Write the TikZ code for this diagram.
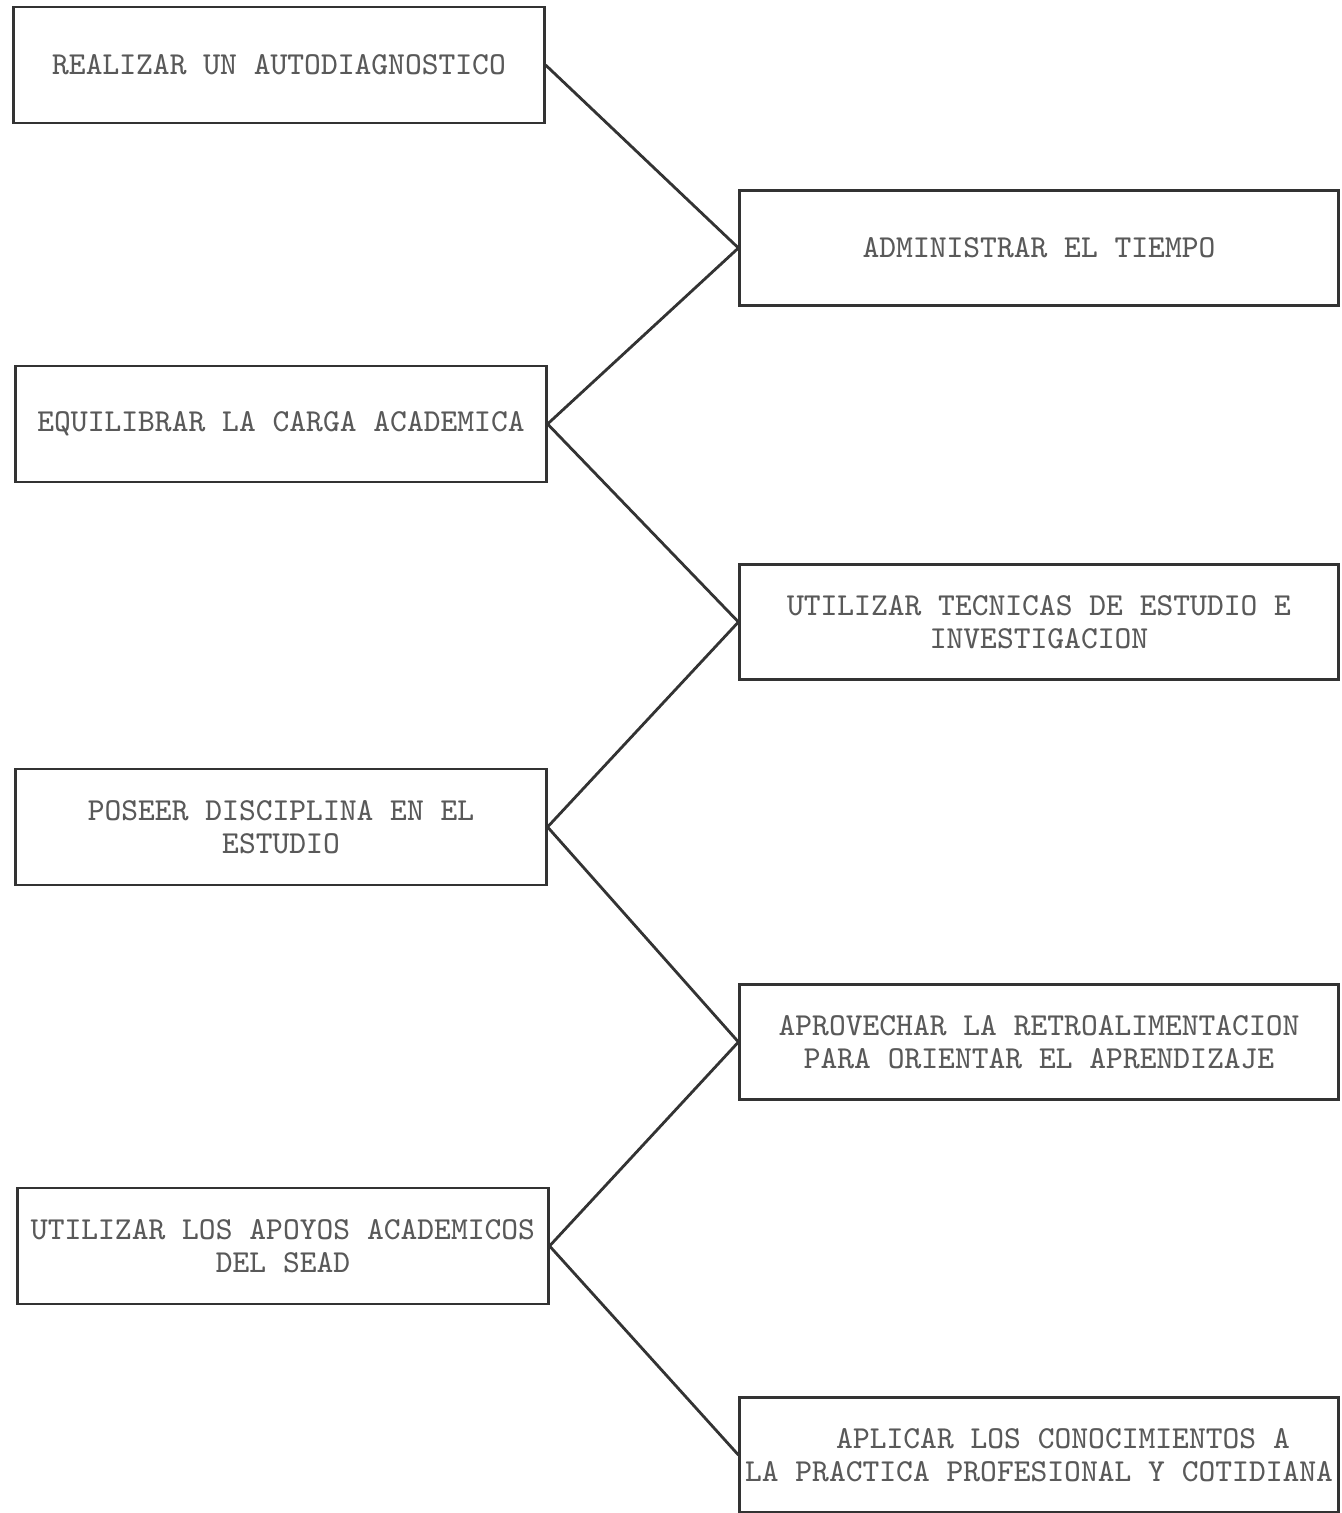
\documentclass[tikz,border=0pt]{standalone}
\tikzset{
  paso/.style={draw=black!80, line width=0.8pt, rectangle, inner sep=1pt,
    align=center, font=\ttfamily\fontsize{9.1pt}{9.4pt}\selectfont, text=black!65},
  izq/.style={paso, minimum width=5.3cm, minimum height=1.16cm},
  der/.style={paso, minimum width=5.98cm, minimum height=1.15cm}
}
\begin{document}
\begin{tikzpicture}[x=0.01cm,y=-0.01cm]
      \useasboundingbox (0,0) rectangle (1341,1513);
      \node[izq] (l1) at (279,65) {REALIZAR UN AUTODIAGNOSTICO};
      \node[izq] (l2) at (281,424) {EQUILIBRAR LA CARGA ACADEMICA};
      \node[izq] (l3) at (281,827) {POSEER DISCIPLINA EN EL\\ESTUDIO};
      \node[izq] (l4) at (283,1246) {UTILIZAR LOS APOYOS ACADEMICOS\\DEL SEAD};
      \node[der] (r1) at (1039,248) {ADMINISTRAR EL TIEMPO};
      \node[der] (r2) at (1039,622) {UTILIZAR TECNICAS DE ESTUDIO E\\INVESTIGACION};
      \node[der] (r3) at (1039,1042) {APROVECHAR LA RETROALIMENTACION\\PARA ORIENTAR EL APRENDIZAJE};
      \node[der] (r4) at (1039,1455) {\hspace*{1.5em}APLICAR LOS CONOCIMIENTOS A\\LA PRACTICA PROFESIONAL Y COTIDIANA};
      \begin{scope}[-, draw=black!80, line width=0.8pt]
        \draw (l1.east) -- (r1.west);
        \draw (r1.west) -- (l2.east);
        \draw (l2.east) -- (r2.west);
        \draw (r2.west) -- (l3.east);
        \draw (l3.east) -- (r3.west);
        \draw (r3.west) -- (l4.east);
        \draw (l4.east) -- (r4.west);
      \end{scope}
    \end{tikzpicture}
\end{document}
